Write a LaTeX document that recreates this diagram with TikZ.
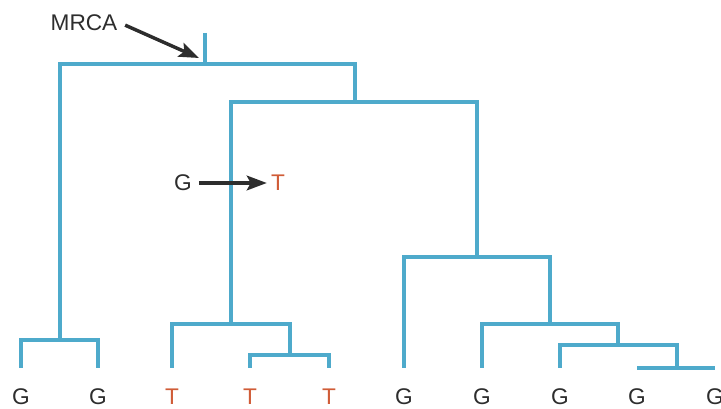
\documentclass[tikz,border=0pt]{standalone}
\usepackage{fontspec}
\setmainfont{Liberation Sans}
\definecolor{branchblue}{RGB}{78,170,203}
\definecolor{mutred}{RGB}{208,92,55}
\definecolor{labelgray}{RGB}{45,45,45}
\usetikzlibrary{arrows.meta,positioning}

\begin{document}
\begin{tikzpicture}[x=0.75pt,y=-0.75pt,
    branch/.style={draw=branchblue, line width=2.3pt},
    base/.style={font=\fontsize{17}{19}\selectfont, text=labelgray, inner sep=2pt},
    mut/.style={base, text=mutred},
    pointer/.style={draw=labelgray, line width=2.6pt, -{Stealth[length=15pt,width=11pt,inset=3pt]}}]
    \useasboundingbox (0,0) rectangle (721,409);

    % tips of the ten lineages
    \foreach \name/\x in {l1/21,l2/98,l3/172,l4/250,l5/329,l6/404,l7/482,l8/560,l9/637,l10/715}
        \coordinate (\name) at (\x,368);

    % splits
    \coordinate (stem) at (205,33);
    \coordinate (root) at (205,64);
    \coordinate (n1) at (60,340);
    \coordinate (n2) at (355,102);
    \coordinate (n3) at (231,324);
    \coordinate (n5) at (290,355);
    \coordinate (n4) at (477,257);
    \coordinate (n6) at (550,324);
    \coordinate (n7) at (618,345);
    \coordinate (n8) at (677,368);

    \draw[branch] (stem) -- (root);
    \draw[branch] (n1) |- (root) -| (n2);
    \draw[branch] (l1) |- (n1) -| (l2);
    \draw[branch] (n3) |- (n2) -| (n4);
    \draw[branch] (l3) |- (n3) -| (n5);
    \draw[branch] (l4) |- (n5) -| (l5);
    \draw[branch] (l6) |- (n4) -| (n6);
    \draw[branch] (l7) |- (n6) -| (n7);
    \draw[branch] (l8) |- (n7) -| (n8);
    \draw[branch] (l9) -- (l10);

    % states at the tips
    \foreach \name/\x/\s/\st in {l1/21/G/base,l2/98/G/base,l3/172/T/mut,l4/250/T/mut,l5/329/T/mut,
        l6/404/G/base,l7/482/G/base,l8/560/G/base,l9/637/G/base,l10/715/G/base}
        \node[\st] (s\name) at (\x,397) {\s};

    % ancestor and the mutation
    \node[base] (mrca) at (84,23) {MRCA};
    \coordinate (mrcatip) at (199,58);
    \draw[pointer, shorten <=4pt] (mrca.east) -- (mrcatip);

    \node[base] (gfrom) at (183,183) {G};
    \node[mut] (tto) at (278,183) {T};
    \draw[pointer, shorten <=3pt, shorten >=1pt] (gfrom) -- (tto);
\end{tikzpicture}
\end{document}
